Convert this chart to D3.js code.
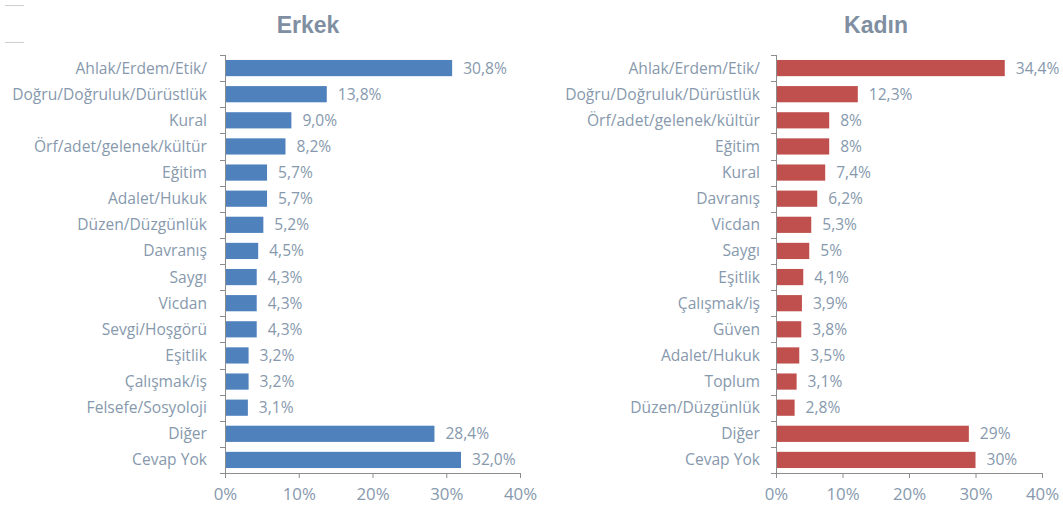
<!DOCTYPE html>
<html>
<head>
<meta charset="utf-8">
<script src="https://cdn.jsdelivr.net/npm/d3@7"></script>
<style>
  body { margin: 0; background: #fff; }
  svg text { font-family: "Open Sans", "Liberation Sans", sans-serif; }
</style>
</head>
<body>
<div id="chart"></div>
<script>
var erkekCategories = ["Ahlak/Erdem/Etik/", "Doğru/Doğruluk/Dürüstlük", "Kural", "Örf/adet/gelenek/kültür",
  "Eğitim", "Adalet/Hukuk", "Düzen/Düzgünlük", "Davranış", "Saygı", "Vicdan", "Sevgi/Hoşgörü",
  "Eşitlik", "Çalışmak/iş", "Felsefe/Sosyoloji", "Diğer", "Cevap Yok"];
var erkekValues = [30.8, 13.8, 9.0, 8.2, 5.7, 5.7, 5.2, 4.5, 4.3, 4.3, 4.3, 3.2, 3.2, 3.1, 28.4, 32.0];
var erkekLabels = ["30,8%", "13,8%", "9,0%", "8,2%", "5,7%", "5,7%", "5,2%", "4,5%", "4,3%", "4,3%", "4,3%",
  "3,2%", "3,2%", "3,1%", "28,4%", "32,0%"];

var kadinCategories = ["Ahlak/Erdem/Etik/", "Doğru/Doğruluk/Dürüstlük", "Örf/adet/gelenek/kültür", "Eğitim",
  "Kural", "Davranış", "Vicdan", "Saygı", "Eşitlik", "Çalışmak/iş", "Güven", "Adalet/Hukuk",
  "Toplum", "Düzen/Düzgünlük", "Diğer", "Cevap Yok"];
var kadinValues = [34.4, 12.3, 8, 8, 7.4, 6.2, 5.3, 5, 4.1, 3.9, 3.8, 3.5, 3.1, 2.8, 29, 30];
var kadinLabels = ["34,4%", "12,3%", "8%", "8%", "7,4%", "6,2%", "5,3%", "5%", "4,1%", "3,9%", "3,8%",
  "3,5%", "3,1%", "2,8%", "29%", "30%"];

var xTicks = [0, 10, 20, 30, 40];
var xTickLabels = ["0%", "10%", "20%", "30%", "40%"];

var svg = d3.select("#chart").append("svg")
  .attr("width", 1063)
  .attr("height", 506);

// size the text so the longest category label is as wide as in the picture
var probe = svg.append("text").style("font-size", "14px").text("Doğru/Doğruluk/Dürüstlük");
var probeWidth = probe.node().getComputedTextLength();
probe.remove();
var fontSize = Math.min(22, 14 * 195 / probeWidth);

// small marks at the top left
svg.append("line").attr("x1", 5).attr("x2", 24).attr("y1", 5.5).attr("y2", 5.5)
  .attr("stroke", "#cfcfcf").attr("stroke-width", 1);
svg.append("line").attr("x1", 5).attr("x2", 24).attr("y1", 42.5).attr("y2", 42.5)
  .attr("stroke", "#cfcfcf").attr("stroke-width", 1);

var textColor = "#8799ad";
var axisColor = "#8c8c8c";

function drawPanel(opts) {
  var x = d3.scaleLinear().domain([0, 40]).range([opts.x0, opts.x1]);
  var y = d3.scaleBand().domain(opts.categories).range([55, 473]).paddingInner(0.38).paddingOuter(0.19);

  var g = svg.append("g");

  svg.append("text")
    .attr("x", opts.titleX)
    .attr("y", 33)
    .attr("text-anchor", "middle")
    .style("font-family", "'Liberation Sans', Arial, sans-serif")
    .style("font-size", "23px")
    .style("font-weight", "bold")
    .attr("fill", "#7f8fa1")
    .text(opts.title);

  g.selectAll("rect")
    .data(opts.values)
    .enter()
    .append("rect")
    .attr("x", x(0))
    .attr("y", (d, i) => y(opts.categories[i]))
    .attr("width", d => x(d) - x(0))
    .attr("height", y.bandwidth())
    .attr("fill", opts.color);

  g.selectAll("text.val")
    .data(opts.values)
    .enter()
    .append("text")
    .attr("class", "val")
    .attr("x", d => x(d) + 11)
    .attr("y", (d, i) => y(opts.categories[i]) + y.bandwidth() / 2)
    .attr("dy", "0.35em")
    .style("font-size", fontSize + "px")
    .attr("fill", textColor)
    .text((d, i) => opts.labels[i]);

  g.selectAll("text.cat")
    .data(opts.categories)
    .enter()
    .append("text")
    .attr("class", "cat")
    .attr("x", x(0) - opts.labelGap)
    .attr("y", d => y(d) + y.bandwidth() / 2)
    .attr("dy", "0.35em")
    .attr("text-anchor", "end")
    .style("font-size", fontSize + "px")
    .attr("fill", textColor)
    .text(d => d);

  // vertical axis with ticks between categories
  var step = y.step();
  var boundaries = d3.range(opts.categories.length + 1).map(i => 55 + i * step);
  g.append("line")
    .attr("x1", x(0) + 0.5).attr("x2", x(0) + 0.5)
    .attr("y1", 55).attr("y2", 473)
    .attr("stroke", axisColor);
  g.selectAll("line.ytick")
    .data(boundaries)
    .enter()
    .append("line")
    .attr("class", "ytick")
    .attr("x1", x(0) - 5).attr("x2", x(0) + 0.5)
    .attr("y1", d => Math.round(d) + 0.5).attr("y2", d => Math.round(d) + 0.5)
    .attr("stroke", axisColor);

  // bottom axis
  var xAxis = d3.axisBottom(x)
    .tickValues(xTicks)
    .tickFormat((d, i) => xTickLabels[i])
    .tickSizeInner(5)
    .tickSizeOuter(0)
    .tickPadding(10);
  var ax = svg.append("g")
    .attr("transform", "translate(0," + 473 + ")")
    .call(xAxis);
  ax.select(".domain").attr("stroke", axisColor);
  ax.selectAll(".tick line").attr("stroke", axisColor);
  ax.selectAll(".tick text")
    .style("font-size", (fontSize * 1.08) + "px")
    .style("font-family", "'Open Sans', 'Liberation Sans', sans-serif")
    .attr("fill", textColor);
}

drawPanel({
  title: "Erkek", titleX: 308,
  categories: erkekCategories, values: erkekValues, labels: erkekLabels,
  x0: 225, x1: 520, color: "#4f81bd", labelGap: 18
});

drawPanel({
  title: "Kadın", titleX: 876,
  categories: kadinCategories, values: kadinValues, labels: kadinLabels,
  x0: 776, x1: 1042, color: "#c0504d", labelGap: 16
});
</script>
</body>
</html>
